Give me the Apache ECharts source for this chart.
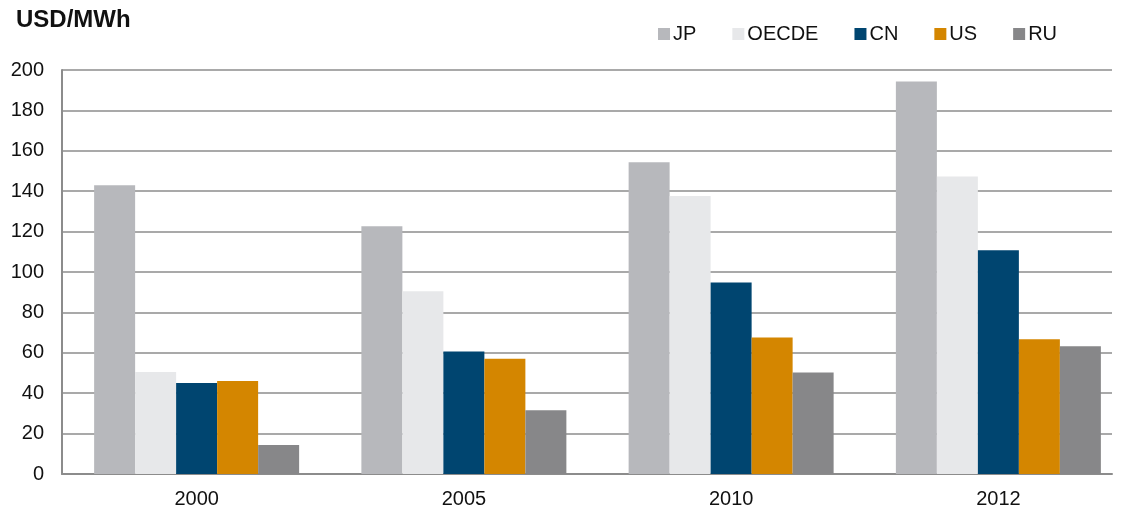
<!DOCTYPE html>
<html>
<head>
<meta charset="utf-8">
<script src="https://cdn.jsdelivr.net/npm/echarts@6/dist/echarts.min.js"></script>
<style>
  html, body { margin: 0; padding: 0; background: #fff; }
  #chart { width: 1123px; height: 511px; }
</style>
</head>
<body>
<div id="chart"></div>
<script>
// 数据
const years = ['2000', '2005', '2010', '2012'];
const seriesNames = ['JP', 'OECDE', 'CN', 'US', 'RU'];
const jp = [143, 122.6, 154.3, 194.3];
const oecde = [50.5, 90.5, 137.6, 147.3];
const cn = [45, 60.7, 94.8, 110.8];
const us = [46, 57, 67.6, 66.7];
const ru = [14.3, 31.5, 50.3, 63.3];
const colors = ['#b7b8bc', '#e7e8ea', '#004570', '#d48600', '#878789'];

const values = [jp, oecde, cn, us, ru];

const chart = echarts.init(document.getElementById('chart'));

// grid 0: 坐标轴和网格线; grid 1: 柱子和年份标签（原图的分类间距略宽）
const option = {
  animation: false,
  textStyle: { fontFamily: 'Liberation Sans, Arial, sans-serif' },
  title: {
    text: 'USD/MWh',
    left: 16,
    top: 8,
    padding: 0,
    textStyle: { fontSize: 24, fontWeight: 'bold', color: '#111' }
  },
  legend: {
    left: 658,
    top: 24,
    padding: 0,
    itemWidth: 12,
    itemHeight: 12,
    itemGap: 36,
    icon: 'rect',
    textStyle: { fontSize: 20, color: '#111', padding: [0, 0, 0, -2] },
    data: seriesNames
  },
  grid: [
    { left: 62, right: 11, top: 70, bottom: 37 },
    { left: 63, width: 1069, top: 70, bottom: 37, outerBoundsMode: 'none' }
  ],
  xAxis: [
    {
      type: 'category',
      gridIndex: 0,
      data: years,
      axisLine: { lineStyle: { color: '#8c8c8c', width: 2 } },
      axisTick: { show: false },
      axisLabel: { show: false }
    },
    {
      type: 'category',
      gridIndex: 1,
      data: years,
      axisLine: { show: false },
      axisTick: { show: false },
      axisLabel: { fontSize: 20, color: '#111', margin: 15 }
    }
  ],
  yAxis: [
    {
      type: 'value',
      gridIndex: 0,
      min: 0,
      max: 200,
      interval: 20,
      axisLine: { show: true, lineStyle: { color: '#8c8c8c', width: 2 } },
      axisTick: { show: false },
      axisLabel: { fontSize: 20, color: '#111', margin: 18 },
      splitLine: { lineStyle: { color: '#8c8c8c', width: 1.5 } }
    },
    {
      type: 'value',
      gridIndex: 1,
      min: 0,
      max: 200,
      interval: 20,
      show: false
    }
  ],
  series: seriesNames.map((name, i) => ({
    name: name,
    type: 'bar',
    xAxisIndex: 1,
    yAxisIndex: 1,
    data: values[i],
    barWidth: 41,
    barGap: '0%',
    itemStyle: { color: colors[i] }
  }))
};

chart.setOption(option);
</script>
</body>
</html>
